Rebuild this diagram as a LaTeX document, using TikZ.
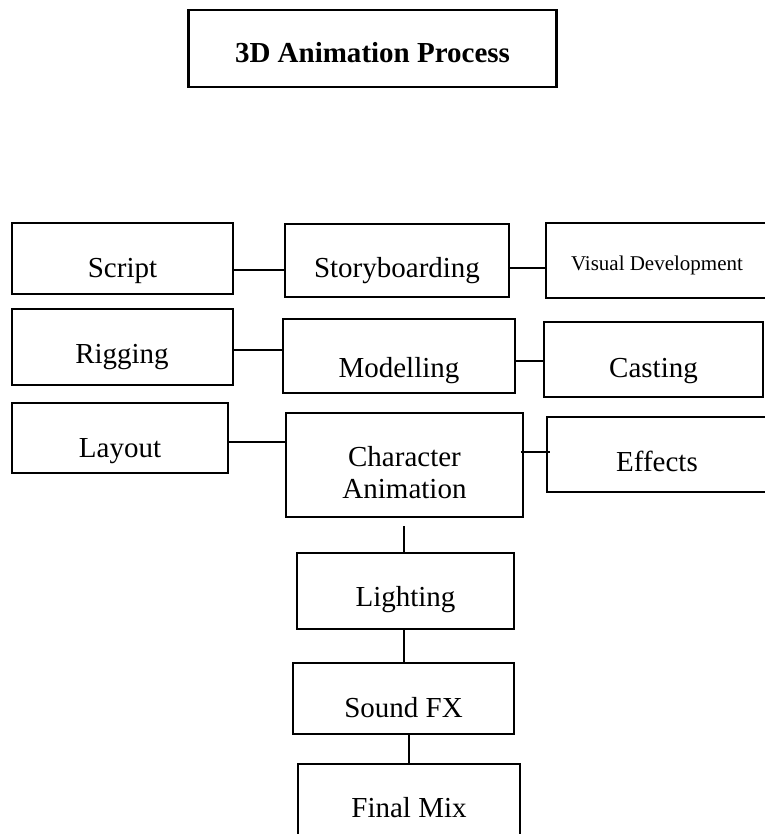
\documentclass[tikz,border=0pt]{standalone}
\usepackage{fontspec}
\setmainfont{Liberation Serif}
\begin{document}
\begin{tikzpicture}[x=1pt,y=-1pt,
  box/.style={draw,line width=2.6pt,rectangle,inner sep=0pt},
  lbl/.style={anchor=base,inner sep=0pt,font=\fontsize{29}{32}\selectfont},
  conn/.style={line width=2.5pt}]
\useasboundingbox (0,0) rectangle (764,834);
% boxes
\node[box,minimum width=368pt,minimum height=77pt] (title) at (372.5,48.5) {};
\node[box,minimum width=221pt,minimum height=71pt] (script) at (122.5,258.5) {};
\node[box,minimum width=224pt,minimum height=73pt] (story) at (397,260.5) {};
\node[box,minimum width=222pt,minimum height=75pt] (visdev) at (657,260.5) {};
\node[box,minimum width=221pt,minimum height=76pt] (rigging) at (122.5,347) {};
\node[box,minimum width=232pt,minimum height=74pt] (model) at (399,356) {};
\node[box,minimum width=219pt,minimum height=75pt] (casting) at (653.5,359.5) {};
\node[box,minimum width=216pt,minimum height=70pt] (layout) at (120,438) {};
\node[box,minimum width=237pt,minimum height=104pt] (charanim) at (404.5,465) {};
\node[box,minimum width=220pt,minimum height=75pt] (effects) at (657,454.5) {};
\node[box,minimum width=217pt,minimum height=76pt] (lighting) at (405.5,591) {};
\node[box,minimum width=221pt,minimum height=71pt] (soundfx) at (403.5,698.5) {};
\node[box,minimum width=222pt,minimum height=86pt] (finalmix) at (409,807) {};
% texts
\node[lbl,font=\bfseries\fontsize{29}{32}\selectfont] (titleT) at (372.5,63) {3D Animation Process};
\node[lbl] (scriptT) at (122.5,277) {Script};
\node[lbl] (storyT) at (397,277) {Storyboarding};
\node[lbl,font=\fontsize{21}{24}\selectfont] (visdevT) at (657,270) {Visual Development};
\node[lbl] (riggingT) at (122,363) {Rigging};
\node[lbl] (modelT) at (399,377) {Modelling};
\node[lbl] (castingT) at (653.5,377) {Casting};
\node[lbl] (layoutT) at (120,457) {Layout};
\node[lbl,anchor=center,align=center] (charanimT) at (404.5,473) {Character\\Animation};
\node[lbl] (effectsT) at (657,471) {Effects};
\node[lbl] (lightingT) at (405.5,606) {Lighting};
\node[lbl] (soundfxT) at (403.5,717) {Sound FX};
\node[lbl] (finalmixT) at (409,817) {Final Mix};
% connectors
\draw[conn] (script.east |- 0,270) -- (story.west |- 0,270);
\draw[conn] (story.east |- 0,268) -- (visdev.west |- 0,268);
\draw[conn] (rigging.east |- 0,350) -- (model.west |- 0,350);
\draw[conn] (model.east |- 0,361) -- (casting.west |- 0,361);
\draw[conn] (layout.east |- 0,442) -- (charanim.west |- 0,442);
\draw[conn,shorten <=-3pt,shorten >=-4pt] (charanim.east |- 0,452) -- (effects.west |- 0,452);
\draw[conn,shorten <=8pt] (charanim.south -| 404,0) -- (lighting.north -| 404,0);
\draw[conn] (lighting.south -| 404,0) -- (soundfx.north -| 404,0);
\draw[conn] (soundfx.south -| 409,0) -- (finalmix.north -| 409,0);
\end{tikzpicture}
\end{document}
